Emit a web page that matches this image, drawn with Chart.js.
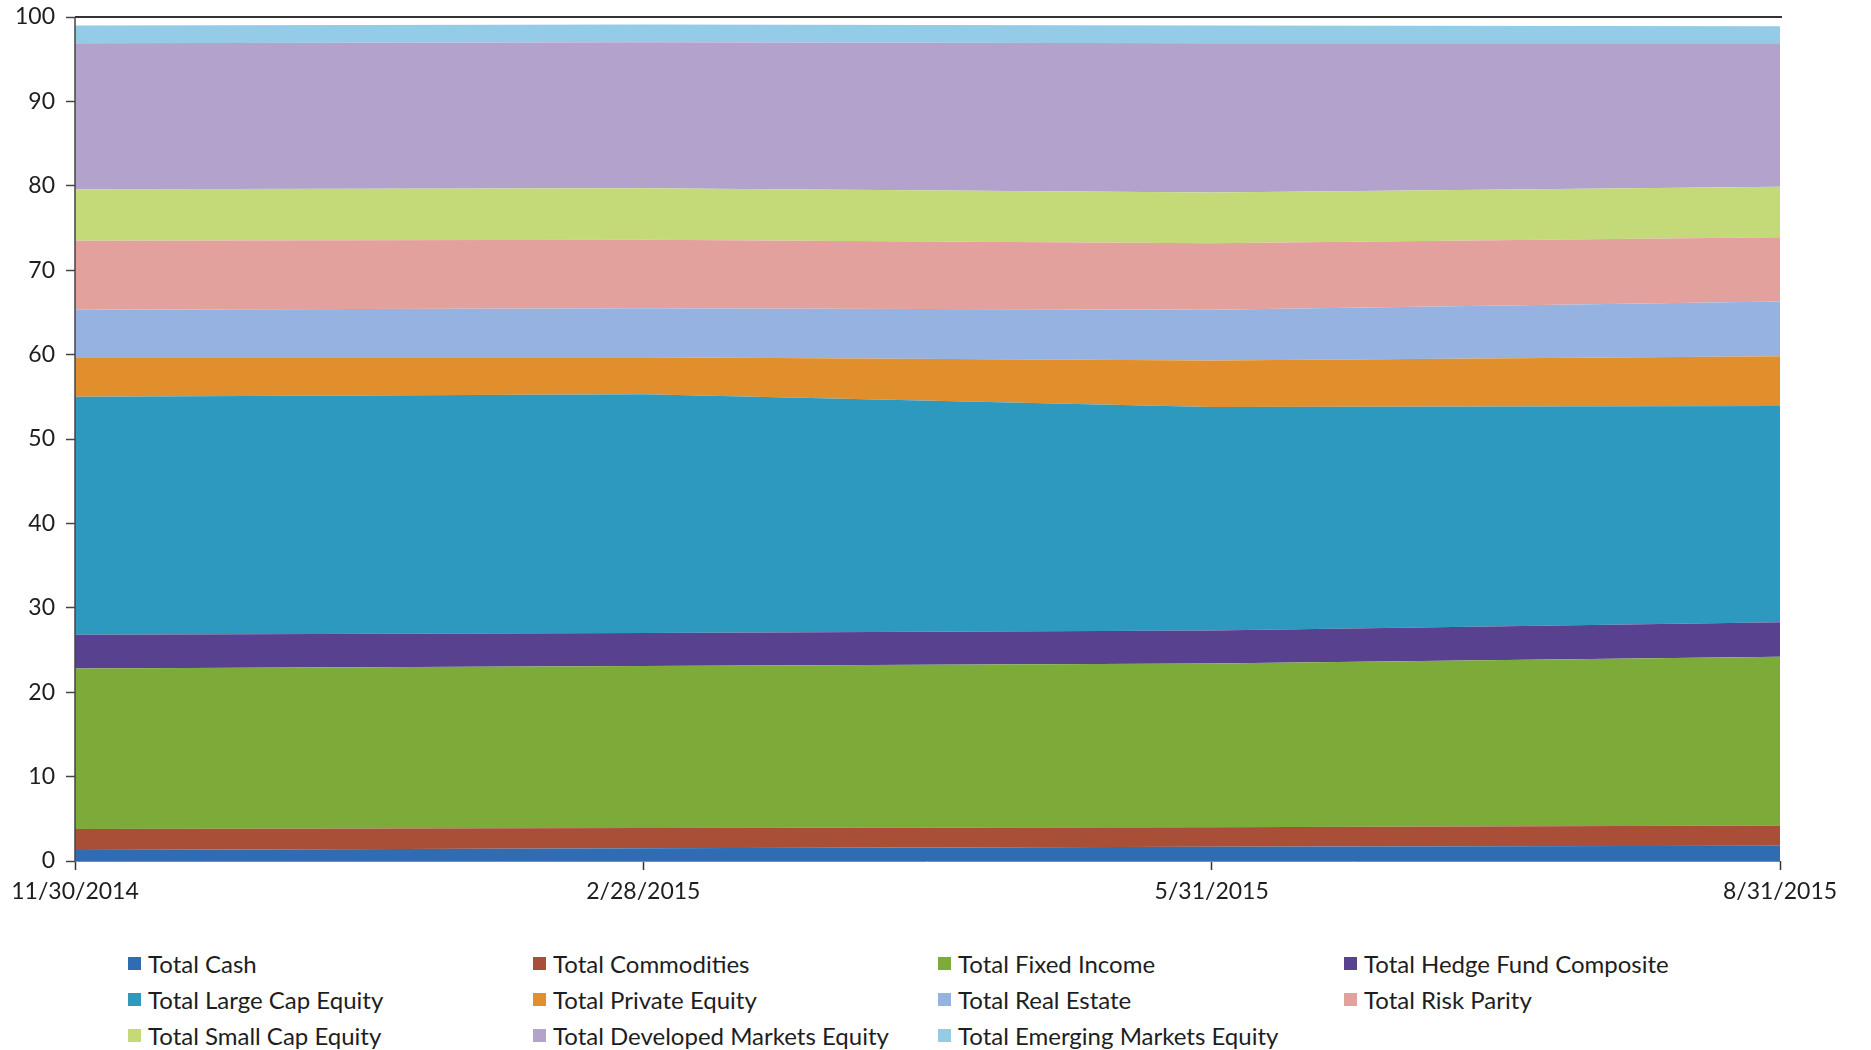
<!DOCTYPE html>
<html>
<head>
<meta charset="utf-8">
<script src="https://cdn.jsdelivr.net/npm/chart.js@4"></script>
<style>
  html, body { margin: 0; padding: 0; background: #ffffff; }
  body { width: 1871px; height: 1050px; position: relative; overflow: hidden; font-family: Lato, "Open Sans", sans-serif; }
  #wrap { position: absolute; left: 0; top: 0; width: 1871px; height: 911px; }
  #legend { position: absolute; left: 128px; top: 949px; display: grid;
            grid-template-columns: 405px 405px 406px 405px; row-gap: 8px; }
  .item { display: flex; align-items: center; height: 28px; font-size: 24px; color: #1e1e1e; white-space: nowrap; }
  .box { width: 13px; height: 13px; margin-right: 7px; flex: none; }
</style>
</head>
<body>
<div id="wrap"><canvas id="chart"></canvas></div>
<div id="legend"></div>
<script>
// Month-end allocation snapshots
const dates = ['11/30/2014', '2/28/2015', '5/31/2015', '8/31/2015'];

// Allocation by asset class, percent of total
const totalCash            = [1.3, 1.5, 1.7, 1.8];
const totalCommodities     = [2.5, 2.4, 2.3, 2.4];
const totalFixedIncome     = [19.0, 19.2, 19.4, 20.0];
const totalHedgeFund       = [4.0, 3.9, 3.9, 4.1];
const totalLargeCap        = [28.2, 28.3, 26.5, 25.6];
const totalPrivateEquity   = [4.7, 4.4, 5.5, 5.9];
const totalRealEstate      = [5.6, 5.8, 6.0, 6.5];
const totalRiskParity      = [8.2, 8.1, 7.9, 7.6];
const totalSmallCap        = [6.1, 6.1, 6.0, 6.0];
const totalDevelopedMkts   = [17.3, 17.3, 17.7, 17.0];
const totalEmergingMkts    = [2.1, 2.1, 2.1, 2.0];

const yTicks = [0, 10, 20, 30, 40, 50, 60, 70, 80, 90, 100];

const seriesNames = [
  'Total Cash', 'Total Commodities', 'Total Fixed Income', 'Total Hedge Fund Composite',
  'Total Large Cap Equity', 'Total Private Equity', 'Total Real Estate', 'Total Risk Parity',
  'Total Small Cap Equity', 'Total Developed Markets Equity', 'Total Emerging Markets Equity'
];
const seriesValues = [
  totalCash, totalCommodities, totalFixedIncome, totalHedgeFund,
  totalLargeCap, totalPrivateEquity, totalRealEstate, totalRiskParity,
  totalSmallCap, totalDevelopedMkts, totalEmergingMkts
];
const seriesColors = [
  '#2f6cb2', '#a94f37', '#7cab39', '#58428f',
  '#2e99bf', '#e18f2c', '#96b2e0', '#e2a19c',
  '#c4d978', '#b3a2cb', '#94cbe7'
];

const datasets = seriesNames.map((name, i) => ({
  label: name,
  data: seriesValues[i],
  backgroundColor: seriesColors[i],
  borderColor: seriesColors[i],
  borderWidth: 0,
  pointRadius: 0,
  fill: i === 0 ? 'origin' : '-1',
  tension: 0
}));

const FONT = { family: 'Lato, "Open Sans", sans-serif', size: 23 };

// Axis lines: dark vertical axis, lighter baseline, dark rule at 100
const axisLines = {
  id: 'axisLines',
  afterDatasetsDraw(chart) {
    const { ctx, chartArea: a, scales } = chart;
    const yTop = scales.y.getPixelForValue(100);
    ctx.save();
    ctx.strokeStyle = '#333333';
    ctx.lineWidth = 2;
    ctx.beginPath();
    ctx.moveTo(a.left, yTop);
    ctx.lineTo(a.right + 2, yTop);
    ctx.stroke();
    ctx.strokeStyle = '#444444';
    ctx.lineWidth = 1.5;
    ctx.beginPath();
    ctx.moveTo(a.left, yTop);
    ctx.lineTo(a.left, a.bottom);
    ctx.stroke();
    ctx.strokeStyle = '#8a8a8a';
    ctx.lineWidth = 1;
    ctx.beginPath();
    ctx.moveTo(a.left, a.bottom + 0.5);
    ctx.lineTo(a.right, a.bottom + 0.5);
    ctx.stroke();
    ctx.restore();
  }
};

new Chart(document.getElementById('chart'), {
  type: 'line',
  data: { labels: dates, datasets },
  plugins: [axisLines],
  options: {
    responsive: true,
    maintainAspectRatio: false,
    animation: false,
    layout: { padding: { top: 17, right: 91, left: 0, bottom: 0 } },
    plugins: { legend: { display: false }, tooltip: { enabled: false } },
    elements: { line: { borderWidth: 0 } },
    scales: {
      x: {
        offset: false,
        grid: { drawOnChartArea: false, drawTicks: true, tickLength: 9, color: '#333', tickColor: '#333', tickWidth: 1.5 },
        border: { display: false },
        ticks: { color: '#1e1e1e', font: FONT, padding: 8, maxRotation: 0, autoSkip: false },
        afterFit: s => { s.height = 50; }
      },
      y: {
        stacked: true,
        min: 0,
        max: 100,
        afterBuildTicks: s => { s.ticks = yTicks.map(v => ({ value: v })); },
        grid: { drawOnChartArea: false, drawTicks: true, tickLength: 9, color: '#444', tickColor: '#444', tickWidth: 1.5 },
        border: { display: false },
        ticks: { color: '#1e1e1e', font: FONT, padding: 11 },
        afterFit: s => { s.width = 75; s.paddingTop = 0; s.paddingBottom = 0; }
      }
    }
  }
});

// Legend laid out in four fixed columns
const legend = document.getElementById('legend');
seriesNames.forEach((name, i) => {
  const item = document.createElement('div');
  item.className = 'item';
  const box = document.createElement('span');
  box.className = 'box';
  box.style.background = seriesColors[i];
  const txt = document.createElement('span');
  txt.textContent = name;
  item.appendChild(box);
  item.appendChild(txt);
  legend.appendChild(item);
});
</script>
</body>
</html>
